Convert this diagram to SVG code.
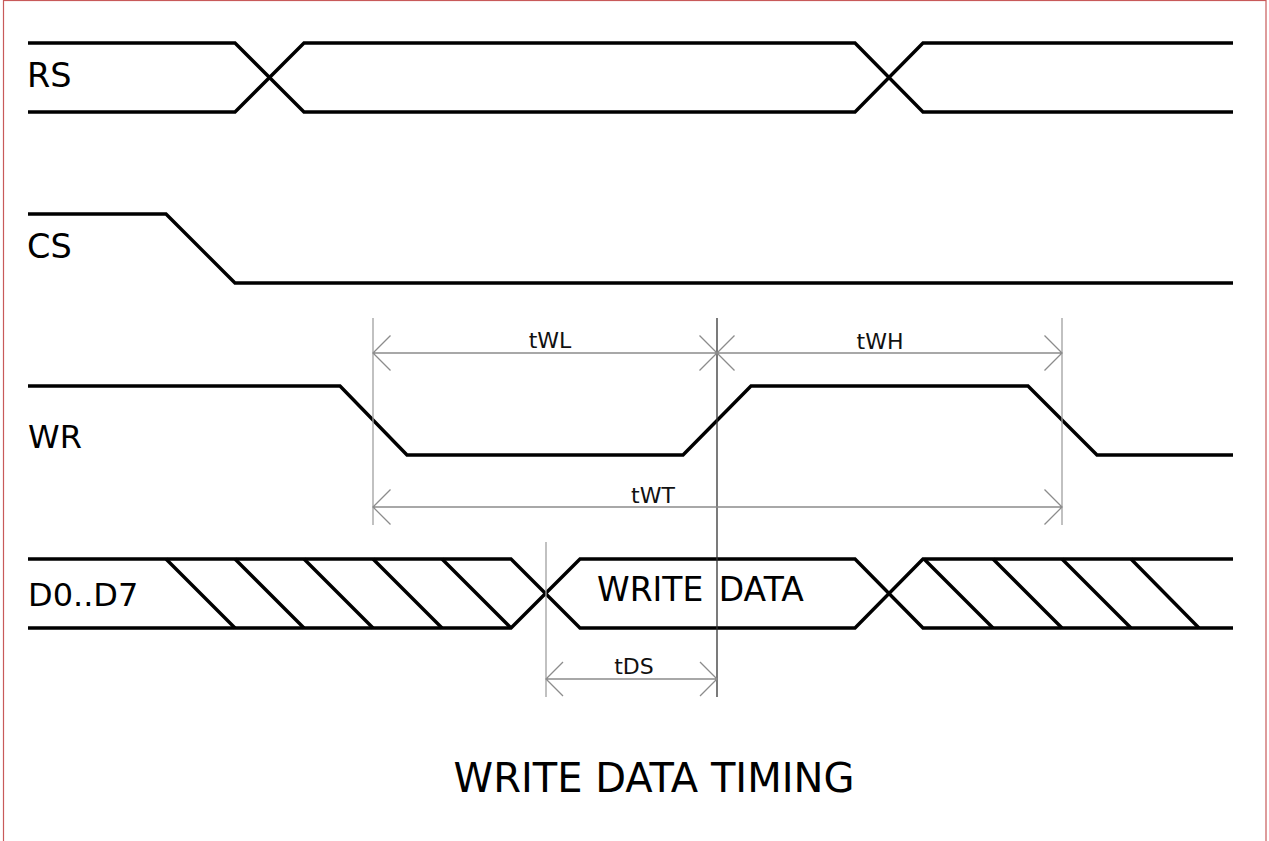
<svg xmlns="http://www.w3.org/2000/svg" width="1269" height="841" viewBox="0 0 1269 841">
<style>
.sig{fill:none;stroke:#000;stroke-width:3.4;stroke-linejoin:miter}
.ext{fill:none;stroke:#a0a0a0;stroke-width:1.3}
.dim{fill:none;stroke:#8c8c8c;stroke-width:1.3}
.ref{fill:none;stroke:#333;stroke-width:1.3}
.lbl{font-family:"DejaVu Sans",Verdana,sans-serif;font-size:32px;fill:#000}
.dt{font-family:"DejaVu Sans",Verdana,sans-serif;font-size:22px;fill:#111;text-anchor:middle}
.ttl{font-family:"DejaVu Sans",Verdana,sans-serif;font-size:40px;fill:#000;text-anchor:middle}
</style>
<rect x="3.5" y="0.5" width="1262.5" height="850" fill="#fff" stroke="#c85a5a" stroke-width="1.2"/>
<g id="RS">
<path class="sig" d="M28 43 H235 L304 112 H855 L923 43 H1233"/>
<path class="sig" d="M28 112 H235 L304 43 H855 L923 112 H1233"/>
<text class="lbl" x="27" y="87" style="font-size:33.5px">RS</text>
</g>
<g id="CS">
<path class="sig" d="M28 214 H166 L235 283 H1233"/>
<text class="lbl" x="27" y="258" style="font-size:33.5px">CS</text>
</g>
<g id="WR">
<path class="sig" d="M28 386 H340 L407 455 H683 L751 386 H1028 L1097 455 H1233"/>
<text class="lbl" x="28" y="448">WR</text>
</g>
<g id="D0D7">
<path class="sig" d="M28 559 H511 L580 628 H855 L923 559 H1233"/>
<path class="sig" d="M28 628 H511 L580 559 H855 L923 628 H1233"/>
<path class="sig" d="M166 559 L235 628 M235 559 L304 628 M304 559 L373 628 M373 559 L442 628 M442 559 L511 628"/>
<path class="sig" d="M924 559 L993 628 M993 559 L1062 628 M1062 559 L1131 628 M1131 559 L1199 628"/>
<text class="lbl" x="28" y="606">D0..D7</text>
<text class="lbl" x="597" y="601" style="font-size:33px;word-spacing:5px">WRITE DATA</text>
</g>
<g id="connectors">
<line class="ext" x1="373" y1="318" x2="373" y2="525"/>
<line class="ext" x1="1062" y1="318" x2="1062" y2="525"/>
<line class="ext" x1="546" y1="542" x2="546" y2="697"/>
<line class="ref" x1="717" y1="318" x2="717" y2="697"/>
<g id="tWL">
<path class="dim" d="M373 353 H717 M390.5 335.5 L373 353 L390.5 370.5 M699.5 335.5 L717 353 L699.5 370.5"/>
<text class="dt" x="550" y="348">tWL</text>
</g>
<g id="tWH">
<path class="dim" d="M717 353 H1062 M734.5 335.5 L717 353 L734.5 370.5 M1044.5 335.5 L1062 353 L1044.5 370.5"/>
<text class="dt" x="880" y="349">tWH</text>
</g>
<g id="tWT">
<path class="dim" d="M373 507 H1062 M390.5 489.5 L373 507 L390.5 524.5 M1044.5 489.5 L1062 507 L1044.5 524.5"/>
<text class="dt" x="653" y="503">tWT</text>
</g>
<g id="tDS">
<path class="dim" d="M546 679 H717 M563 662 L546 679 L563 696 M700 662 L717 679 L700 696"/>
<text class="dt" x="634" y="674">tDS</text>
</g>
</g>
<g id="title">
<text class="ttl" x="654" y="792">WRITE DATA TIMING</text>
</g>
</svg>
